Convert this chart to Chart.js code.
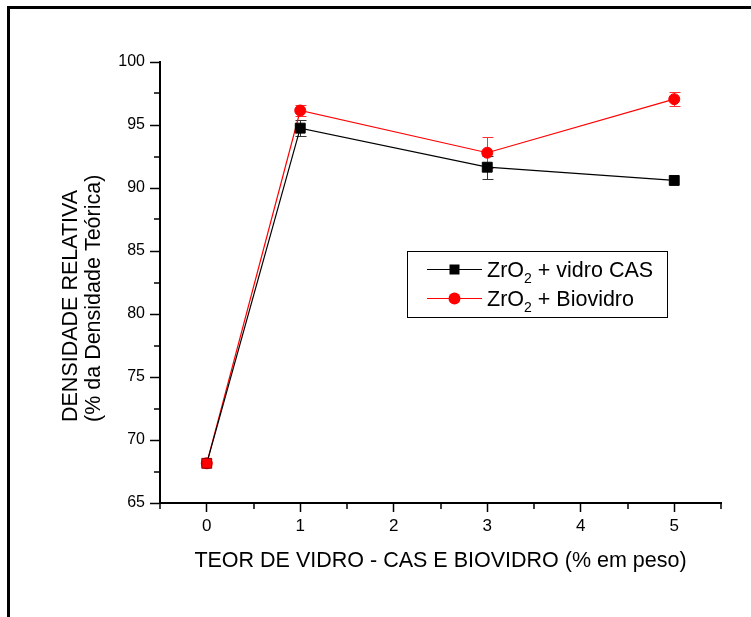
<!DOCTYPE html>
<html>
<head>
<meta charset="utf-8">
<script src="https://cdn.jsdelivr.net/npm/chart.js@4.4.0/dist/chart.umd.min.js"></script>
<style>
  html, body { margin: 0; padding: 0; background: #fff; }
  #wrap { position: relative; width: 751px; height: 617px; overflow: hidden; }
  #frame { position: absolute; left: 7px; top: 6px; width: 800px; height: 700px;
           border-top: 3px solid #000; border-left: 3px solid #000; }
  canvas { position: absolute; left: 0; top: 0; }
</style>
</head>
<body>
<div id="wrap">
  <div id="frame"></div>
  <canvas id="chart" width="751" height="617"></canvas>
</div>
<script>
// data
var teor = [0, 1, 3, 5];
var densidadeCas = [68.15, 94.75, 91.65, 90.6];
var erroCas = [0, 0.65, 0.9, 0];
var densidadeBio = [68.15, 96.15, 92.8, 97.05];
var erroBio = [0, 0.45, 1.25, 0.55];

// axes
var xTicks = [0, 1, 2, 3, 4, 5];
var xMinor = [-0.5, 0.5, 1.5, 2.5, 3.5, 4.5, 5.5];
var yTicks = [65, 70, 75, 80, 85, 90, 95, 100];
var yMinor = [67.5, 72.5, 77.5, 82.5, 87.5, 92.5, 97.5];

// texts
var xTitle = 'TEOR DE VIDRO - CAS E BIOVIDRO (% em peso)';
var yTitle = ['DENSIDADE RELATIVA', '(% da Densidade Teórica)'];
var seriesNames = [['ZrO', '2', ' + vidro CAS'], ['ZrO', '2', ' + Biovidro']];

var FONT = '"Liberation Sans", Arial, sans-serif';

function points(xs, ys) {
    return xs.map(function(x, i) { return {x: x, y: ys[i]}; });
}

// error bars, under the markers
var errorBars = {
    id: 'errorBars',
    beforeDatasetsDraw: function(chart) {
        var ctx = chart.ctx, sx = chart.scales.x, sy = chart.scales.y;
        chart.data.datasets.forEach(function(ds) {
            ctx.save();
            ctx.strokeStyle = ds.errorColor;
            ctx.lineWidth = 1;
            ds.errors.forEach(function(e, i) {
                if (!e) return;
                var px = Math.round(sx.getPixelForValue(ds.data[i].x)) + 0.5;
                var top = Math.round(sy.getPixelForValue(ds.data[i].y + e)) + 0.5;
                var bot = Math.round(sy.getPixelForValue(ds.data[i].y - e)) + 0.5;
                ctx.beginPath();
                ctx.moveTo(px, top); ctx.lineTo(px, bot);
                ctx.moveTo(px - 5, top); ctx.lineTo(px + 6, top);
                ctx.moveTo(px - 5, bot); ctx.lineTo(px + 6, bot);
                ctx.stroke();
            });
            ctx.restore();
        });
    }
};

// minor ticks, axis titles and the boxed legend
var decorations = {
    id: 'decorations',
    afterDraw: function(chart) {
        var ctx = chart.ctx, sx = chart.scales.x, sy = chart.scales.y;
        var area = chart.chartArea;
        ctx.save();

        // minor ticks
        ctx.strokeStyle = '#000';
        ctx.lineWidth = 1.5;
        ctx.beginPath();
        xMinor.forEach(function(v) {
            var px = Math.round(sx.getPixelForValue(v));
            ctx.moveTo(px, area.bottom); ctx.lineTo(px, area.bottom + 6);
        });
        yMinor.forEach(function(v) {
            var py = Math.round(sy.getPixelForValue(v));
            ctx.moveTo(area.left, py); ctx.lineTo(area.left - 6, py);
        });
        ctx.stroke();

        // axis titles
        ctx.fillStyle = '#000';
        ctx.font = '21.5px ' + FONT;
        ctx.textAlign = 'center';
        ctx.textBaseline = 'alphabetic';
        ctx.fillText(xTitle, (area.left + area.right) / 2, 567);
        ctx.textAlign = 'left';
        [77, 100].forEach(function(bx, i) {
            ctx.save();
            ctx.translate(bx, 422);
            ctx.rotate(-Math.PI / 2);
            ctx.fillText(yTitle[i], 0, 0);
            ctx.restore();
        });

        // legend
        ctx.lineWidth = 1;
        ctx.strokeRect(407.5, 251.5, 260, 66);
        var rows = [269, 298];
        chart.data.datasets.forEach(function(ds, i) {
            var y = rows[i] + 0.5;
            ctx.strokeStyle = ds.borderColor;
            ctx.beginPath();
            ctx.moveTo(427, y); ctx.lineTo(482, y);
            ctx.stroke();
            ctx.fillStyle = ds.borderColor;
            ctx.beginPath();
            if (ds.pointStyle === 'rect') {
                ctx.rect(449.5, y - 5, 10, 10);
            } else {
                ctx.arc(454.5, y, 6, 0, Math.PI * 2);
            }
            ctx.fill();

            // label with subscript
            var parts = seriesNames[i];
            var tx = 487, base = rows[i] + 8;
            ctx.fillStyle = '#000';
            ctx.textAlign = 'left';
            ctx.font = '21.5px ' + FONT;
            ctx.fillText(parts[0], tx, base);
            tx += ctx.measureText(parts[0]).width;
            ctx.font = '14px ' + FONT;
            ctx.fillText(parts[1], tx, base + 6);
            tx += ctx.measureText(parts[1]).width;
            ctx.font = '21.5px ' + FONT;
            ctx.fillText(parts[2], tx, base);
        });
        ctx.restore();
    }
};

// chart
new Chart(document.getElementById('chart'), {
    type: 'line',
    data: {
        datasets: [
            {
                label: 'ZrO2 + vidro CAS',
                data: points(teor, densidadeCas),
                errors: erroCas,
                errorColor: '#333333',
                borderColor: '#000000',
                borderWidth: 1.2,
                pointStyle: 'rect',
                pointRadius: 7,
                pointBorderWidth: 1,
                pointBackgroundColor: ['#ff0000', '#000000', '#000000', '#000000'],
                pointBorderColor: ['#8a0000', '#000000', '#000000', '#000000'],
                tension: 0
            },
            {
                label: 'ZrO2 + Biovidro',
                data: points(teor, densidadeBio),
                errors: erroBio,
                errorColor: '#ff3030',
                borderColor: '#ff0000',
                borderWidth: 1.2,
                pointStyle: 'circle',
                pointRadius: 5.5,
                pointBorderWidth: 1,
                pointBackgroundColor: '#ff0000',
                pointBorderColor: '#ff0000',
                tension: 0
            }
        ]
    },
    options: {
        responsive: false,
        animation: false,
        devicePixelRatio: 1,
        layout: { padding: { top: 62, right: 30, left: 0, bottom: 0 } },
        plugins: { legend: { display: false }, tooltip: { enabled: false } },
        scales: {
            x: {
                type: 'linear',
                min: -0.5,
                max: 5.5,
                afterBuildTicks: function(s) { s.ticks = xTicks.map(function(v) { return {value: v}; }); },
                afterFit: function(s) { s.height = 114; s.paddingLeft = 0; s.paddingRight = 0; },
                ticks: { color: '#000', font: { family: FONT, size: 17 }, padding: 4, maxRotation: 0, autoSkip: false },
                grid: { drawOnChartArea: false, tickLength: 9, tickColor: '#000', tickWidth: 1.5 },
                border: { color: '#000', width: 2 }
            },
            y: {
                min: 65,
                max: 100,
                afterBuildTicks: function(s) { s.ticks = yTicks.map(function(v) { return {value: v}; }); },
                afterFit: function(s) { s.width = 160; s.paddingTop = 0; s.paddingBottom = 0; },
                ticks: { color: '#000', font: { family: FONT, size: 16 }, padding: 5, autoSkip: false },
                grid: { drawOnChartArea: false, tickLength: 10, tickColor: '#000', tickWidth: 1.5 },
                border: { color: '#000', width: 2 }
            }
        }
    },
    plugins: [errorBars, decorations]
});
</script>
</body>
</html>
